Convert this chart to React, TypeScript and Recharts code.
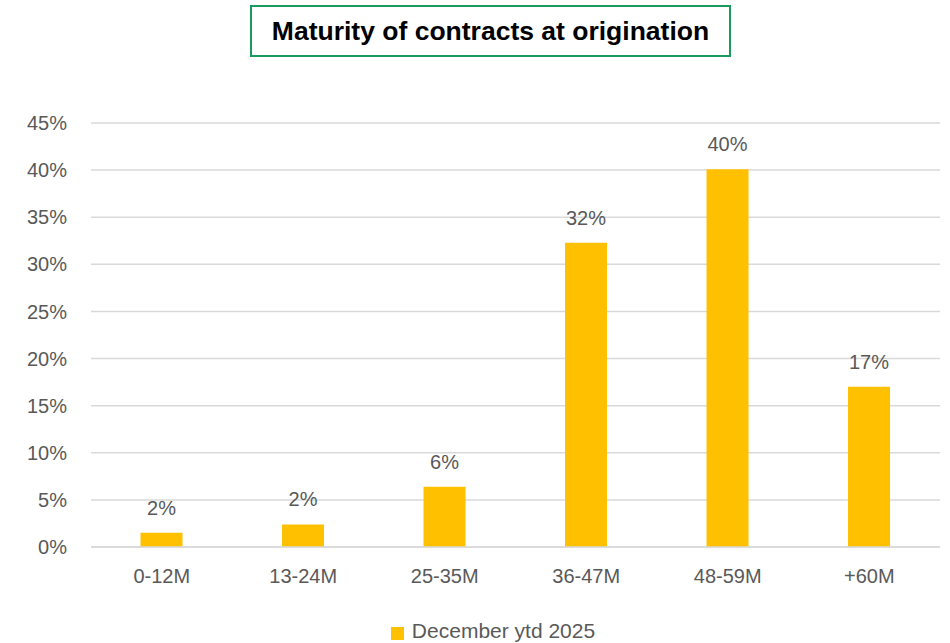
import { BarChart, Bar, XAxis, YAxis, CartesianGrid, Legend, LabelList } from 'recharts';

const categories = ['0-12M', '13-24M', '25-35M', '36-47M', '48-59M', '+60M'];
const shares = [1.5, 2.4, 6.4, 32.3, 40.1, 17.0];
const yTicks = [0, 5, 10, 15, 20, 25, 30, 35, 40, 45];
const seriesName = 'December ytd 2025';

const data = categories.map((c, i) => ({ bucket: c, share: shares[i] }));

const font = '"Liberation Sans", Arial, sans-serif';
const grey = '#595959';

export default function App() {
  return (
    <div style={{ position: 'absolute', left: 0, top: 0, width: 950, height: 643, background: '#fff', fontFamily: font }}>
      <div
        style={{
          position: 'absolute',
          left: 250,
          top: 5,
          width: 477,
          height: 48,
          border: '2px solid #1a9a5e',
          display: 'flex',
          alignItems: 'center',
          justifyContent: 'center',
          fontWeight: 700,
          fontSize: 26.5,
          color: '#000',
          zIndex: 1,
        }}
      >
        Maturity of contracts at origination
      </div>
      <BarChart
        width={950}
        height={643}
        data={data}
        margin={{ top: 123, right: 10, left: 0, bottom: 0 }}
        barCategoryGap="35%"
      >
        <CartesianGrid vertical={false} stroke="#d9d9d9" strokeWidth={1.5} />
        <XAxis
          dataKey="bucket"
          axisLine={{ stroke: '#d9d9d9', strokeWidth: 1.5 }}
          tickLine={false}
          tickMargin={16}
          height={72}
          tick={{ fill: grey, fontSize: 20, fontFamily: font }}
        />
        <YAxis
          domain={[0, 45]}
          ticks={yTicks}
          width={91}
          axisLine={false}
          tickLine={false}
          tickMargin={18}
          tickFormatter={(v) => `${v}%`}
          tick={{ fill: grey, fontSize: 20, fontFamily: font }}
        />
        <Legend
          verticalAlign="bottom"
          iconType="square"
          iconSize={13}
          wrapperStyle={{ paddingLeft: 28 }}
          formatter={(value) => (
            <span style={{ color: grey, fontSize: 21, fontFamily: font, marginLeft: 4 }}>{value}</span>
          )}
        />
        <Bar dataKey="share" name={seriesName} fill="#ffc000" isAnimationActive={false}>
          <LabelList
            dataKey="share"
            position="top"
            offset={18}
            fill={grey}
            fontSize={20}
            fontFamily={font}
            formatter={(v) => `${Math.round(Number(v))}%`}
          />
        </Bar>
      </BarChart>
    </div>
  );
}
